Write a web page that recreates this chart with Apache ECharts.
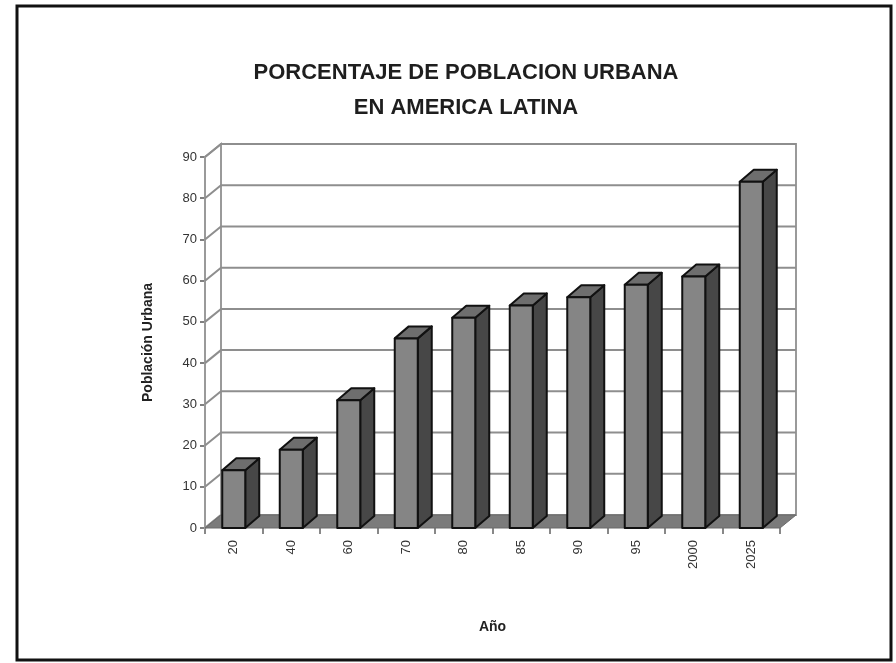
<!DOCTYPE html>
<html>
<head>
<meta charset="utf-8">
<script src="https://cdn.jsdelivr.net/npm/echarts@6/dist/echarts.min.js"></script>
<style>
  html, body { margin: 0; padding: 0; background: #fff; }
  #chart { width: 896px; height: 663px; }
</style>
</head>
<body>
<div id="chart"></div>
<script>
// datos del grafico
var anos = ['20', '40', '60', '70', '80', '85', '90', '95', '2000', '2025'];
var poblacion = [14, 19, 31, 46, 51, 54, 56, 59, 61, 84];
var yTicks = [0, 10, 20, 30, 40, 50, 60, 70, 80, 90];

var fontFamily = 'Liberation Sans, Arial, sans-serif';
// profundidad del efecto 3D
var wallDx = 16, wallDy = -13;
var barDx = 14, barDy = -12;

var chart = echarts.init(document.getElementById('chart'), null, {renderer: 'canvas'});

// paredes, piso y lineas de la cuadricula
function renderWalls(params, api) {
  var cs = params.coordSys;
  var x0 = cs.x, y0 = cs.y, w = cs.width, h = cs.height;
  var children = [];
  children.push({
    type: 'rect',
    shape: {x: x0 + wallDx, y: y0 + wallDy, width: w, height: h},
    style: {fill: '#fff', stroke: '#9a9a9a', lineWidth: 2}
  });
  children.push({
    type: 'polygon',
    shape: {points: [[x0, y0 + h], [x0, y0], [x0 + wallDx, y0 + wallDy], [x0 + wallDx, y0 + h + wallDy]]},
    style: {fill: '#fff', stroke: '#9a9a9a', lineWidth: 2}
  });
  yTicks.forEach(function (v) {
    var y = api.coord([0, v])[1];
    children.push({
      type: 'polyline',
      shape: {points: [[x0, y], [x0 + wallDx, y + wallDy], [x0 + w + wallDx, y + wallDy]]},
      style: {fill: null, stroke: '#8e8e8e', lineWidth: 2}
    });
  });
  children.push({
    type: 'polygon',
    shape: {points: [[x0, y0 + h], [x0 + w, y0 + h], [x0 + w + wallDx, y0 + h + wallDy], [x0 + wallDx, y0 + h + wallDy]]},
    style: {fill: '#7b7b7b', stroke: '#6a6a6a', lineWidth: 1}
  });
  return {type: 'group', children: children};
}

// barras 3D
function renderBar(params, api) {
  var top = api.coord([api.value(0), api.value(1)]);
  var base = api.coord([api.value(0), 0]);
  var bw = api.size([1, 0])[0] * 0.4;
  var xl = top[0] - bw / 2, xr = top[0] + bw / 2;
  var yt = top[1], yb = base[1];
  var edge = {stroke: '#111', lineWidth: 2, lineJoin: 'round'};
  return {
    type: 'group',
    children: [
      {
        type: 'polygon',
        shape: {points: [[xr, yt], [xr + barDx, yt + barDy], [xr + barDx, yb + barDy], [xr, yb]]},
        style: Object.assign({fill: '#474747'}, edge)
      },
      {
        type: 'polygon',
        shape: {points: [[xl, yt], [xr, yt], [xr + barDx, yt + barDy], [xl + barDx, yt + barDy]]},
        style: Object.assign({fill: '#6e6e6e'}, edge)
      },
      {
        type: 'rect',
        shape: {x: xl, y: yt, width: bw, height: yb - yt},
        style: Object.assign({fill: '#858585'}, edge)
      }
    ]
  };
}

var option = {
  backgroundColor: '#fff',
  animation: false,
  graphic: [
    {
      type: 'rect',
      shape: {x: 17, y: 6, width: 874, height: 654},
      style: {fill: null, stroke: '#111', lineWidth: 3}
    }
  ],
  title: {
    text: 'PORCENTAJE DE POBLACION URBANA\nEN AMERICA LATINA',
    left: 461,
    textAlign: 'center',
    top: 50,
    textStyle: {
      fontFamily: fontFamily,
      fontSize: 22,
      fontWeight: 'bold',
      color: '#1e1e1e',
      lineHeight: 35
    }
  },
  grid: {left: 205, right: 116, top: 157, bottom: 135},
  xAxis: {
    type: 'category',
    data: anos,
    name: 'Año',
    nameLocation: 'middle',
    nameGap: 92,
    nameTextStyle: {fontFamily: fontFamily, fontSize: 14, fontWeight: 'bold', color: '#222'},
    axisLine: {show: false},
    axisTick: {show: true, length: 6, lineStyle: {color: '#888', width: 2}},
    axisLabel: {
      rotate: 90,
      margin: 12,
      fontFamily: fontFamily,
      fontSize: 13,
      color: '#333'
    },
    splitLine: {show: false}
  },
  yAxis: {
    type: 'value',
    min: 0,
    max: 90,
    interval: 10,
    name: 'Población Urbana',
    nameLocation: 'middle',
    nameGap: 50,
    nameTextStyle: {fontFamily: fontFamily, fontSize: 14, fontWeight: 'bold', color: '#222'},
    axisLine: {show: true, lineStyle: {color: '#808080', width: 2}},
    axisTick: {show: true, length: 5, lineStyle: {color: '#808080', width: 2}},
    axisLabel: {fontFamily: fontFamily, fontSize: 13, color: '#333', margin: 8},
    splitLine: {show: false}
  },
  series: [
    {
      type: 'custom',
      renderItem: renderWalls,
      data: [[0, 0]],
      silent: true
    },
    {
      name: 'Población Urbana',
      type: 'custom',
      renderItem: renderBar,
      data: anos.map(function (a, i) { return [i, poblacion[i]]; }),
      encode: {x: 0, y: 1}
    }
  ]
};

chart.setOption(option);
</script>
</body>
</html>
